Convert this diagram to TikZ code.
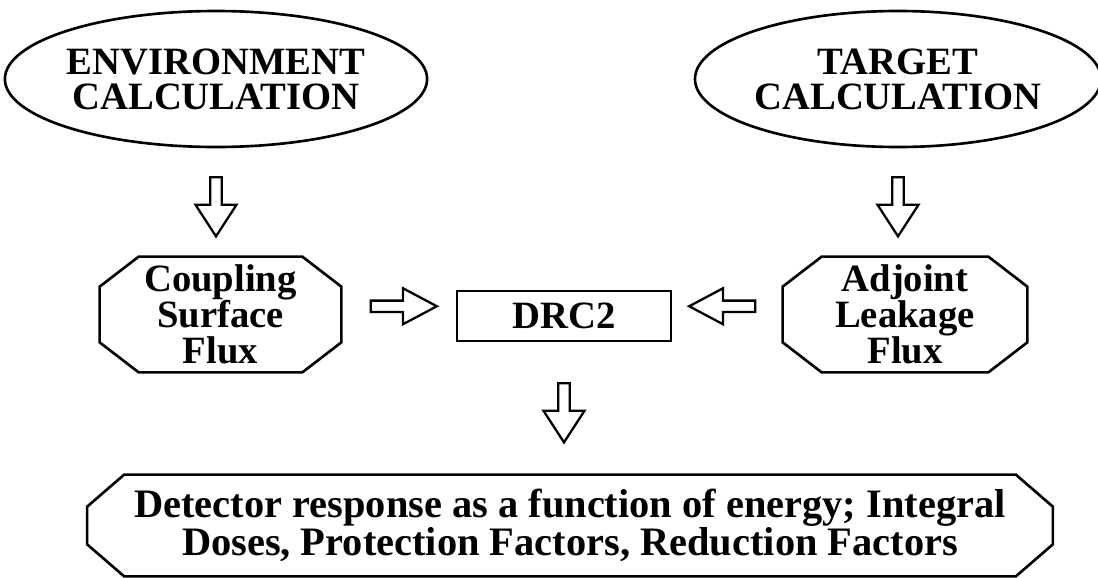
\documentclass[tikz,border=0pt]{standalone}
\usepackage{fontspec}
\setmainfont{Liberation Serif}
\usetikzlibrary{shapes.geometric, shapes.arrows, positioning}
\tikzset{
  calcnode/.style={
    draw, ellipse, line width=1.5pt, inner sep=0pt, align=center,
    font=\fontsize{22}{20}\selectfont\bfseries
  },
  fluxnode/.style={
    rectangle, inner sep=0pt, align=center,
    minimum width=4.82cm, minimum height=2.3cm,
    font=\fontsize{22}{20.5}\selectfont\bfseries
  },
  codenode/.style={
    draw, rectangle, line width=1.5pt, inner sep=0pt, align=center,
    minimum width=4.28cm, minimum height=1cm,
    font=\fontsize{22}{20}\selectfont\bfseries
  },
  resultnode/.style={
    rectangle, inner sep=0pt, align=center,
    minimum width=19.3cm, minimum height=2.02cm,
    font=\fontsize{23}{19.5}\selectfont\bfseries
  },
  frameline/.style={line width=1.5pt, line join=miter},
  flowarrow/.style={
    draw, single arrow, line width=1.3pt, inner sep=0pt
  },
  downflow/.style={flowarrow, minimum height=1.18cm, minimum width=0.82cm,
    single arrow head extend=0.06cm, single arrow tip angle=66, rotate=-90},
  sideflow/.style={flowarrow, minimum height=1.32cm, minimum width=0.72cm,
    single arrow head extend=0.05cm, single arrow tip angle=56},
}
% cut-corner outline round a named node: node, x cut, y cut
\newcommand{\octframe}[3]{%
  \draw[frameline] ([xshift=#2]#1.north west) -- ([xshift=-#2]#1.north east)
    -- ([yshift=-#3]#1.north east) -- ([yshift=#3]#1.south east)
    -- ([xshift=-#2]#1.south east) -- ([xshift=#2]#1.south west)
    -- ([yshift=#3]#1.south west) -- ([yshift=-#3]#1.north west) -- cycle;}

\begin{document}
\begin{tikzpicture}
  \useasboundingbox (0,0) rectangle (21.96,-11.54);

  \node[calcnode, minimum width=8.14cm, minimum height=2.72cm] (env) at (4.32,-1.58) {ENVIRONMENT\\CALCULATION};
  \node[calcnode, minimum width=8.04cm, minimum height=2.72cm] (tgt) at (17.96,-1.58) {TARGET\\CALCULATION};

  \node[fluxnode] (cpl) at (4.41,-6.29) {Coupling\\Surface\\Flux};
  \node[codenode] (drc) at (11.28,-6.32) {DRC2};
  \node[fluxnode, minimum width=4.88cm] (adj) at (18.10,-6.29) {Adjoint\\Leakage\\Flux};
  \octframe{cpl}{0.78cm}{0.6cm}
  \octframe{adj}{0.78cm}{0.6cm}

  \node[resultnode] (res) at (11.40,-10.51) {Detector response as a function of energy; Integral\\Doses, Protection Factors, Reduction Factors};
  \octframe{res}{0.74cm}{0.64cm}

  % hollow block arrows
  \path (env.south) -- (env.south |- cpl.north) node[midway, downflow] (a1) {};
  \path (tgt.south) -- (tgt.south |- adj.north) node[midway, downflow] (a2) {};
  \path ([yshift=1.8mm]cpl.east) -- ([yshift=1.8mm]drc.west) node[midway, sideflow] (a3) {};
  \path ([yshift=1.8mm]adj.west) -- ([yshift=1.8mm]drc.east) node[midway, sideflow, rotate=180] (a4) {};
  \path (drc.south) -- (drc.south |- res.north) node[midway, downflow] (a5) {};
\end{tikzpicture}
\end{document}
